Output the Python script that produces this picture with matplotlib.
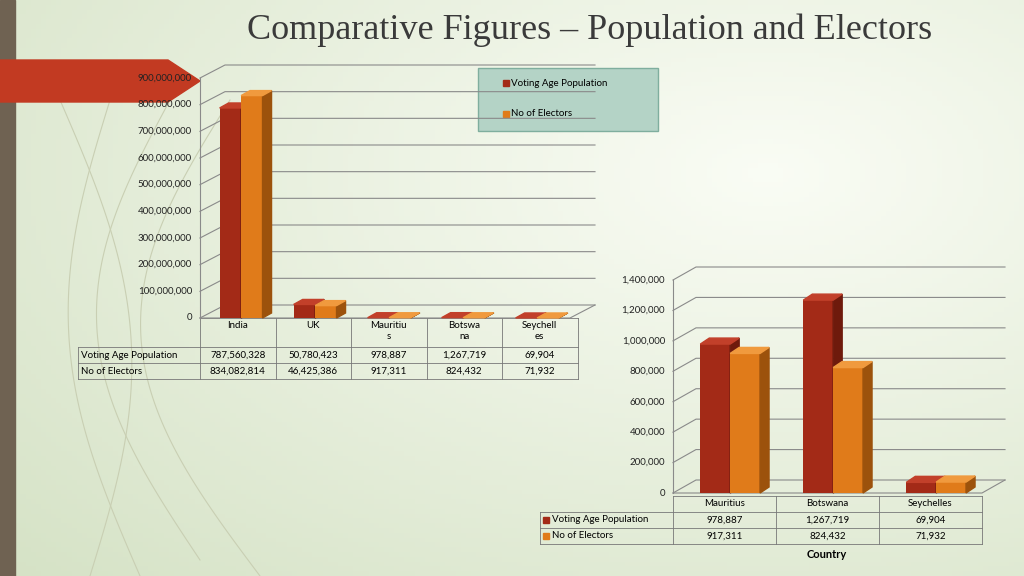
import numpy as np
import matplotlib.pyplot as plt
from matplotlib.patches import Polygon, Rectangle

countries = ["India", "UK", "Mauritius", "Botswana", "Seychelles"]
head1 = ["India", "UK", "Mauritiu\ns", "Botswa\nna", "Seychell\nes"]
voting_age = [787560328, 50780423, 978887, 1267719, 69904]
electors = [834082814, 46425386, 917311, 824432, 71932]
series = ["Voting Age Population", "No of Electors"]
small = ["Mauritius", "Botswana", "Seychelles"]
ticks1 = list(range(0, 900000001, 100000000))
ticks2 = list(range(0, 1400001, 200000))

RED, RED_D, RED_T = "#a32a17", "#6e1a0c", "#c2402a"
ORA, ORA_D, ORA_T = "#e07b1a", "#9c520c", "#f09a3e"
GRID = "#8a8a8a"
FONT = "Lato"

fig = plt.figure(figsize=(10.24, 5.76), dpi=100)
W, H = 1024, 576

# pixel overlay for background / tables
bg = fig.add_axes([0, 0, 1, 1])
bg.set_xlim(0, W); bg.set_ylim(H, 0); bg.axis("off")
gx, gy = np.meshgrid(np.linspace(0, 1, 200), np.linspace(0, 1, 120))
grad = 1 - np.sqrt((gx - 0.75) ** 2 + (gy - 0.3) ** 2) / 1.0
cols = np.zeros(grad.shape + (3,))
c1 = np.array([0.98, 0.99, 0.96]); c2 = np.array([0.84, 0.89, 0.78])
for k in range(3):
    cols[..., k] = c2[k] + (c1[k] - c2[k]) * np.clip(grad, 0, 1)
bg.imshow(cols, extent=[0, W, H, 0], aspect="auto", zorder=0)
bg.add_patch(Rectangle((0, 0), 15, H, color="#6f6252", zorder=1))
t = np.linspace(0, 1, 100)
for a, b, c in [(60, 130, 576), (110, 40, 576), (170, 60, 560), (230, 100, 576)]:
    bg.plot(a + (b - a) * np.sin(t * np.pi) * 0.8 + t * 30, 100 + t * (c - 100), color="#c9cfb3", lw=0.8, zorder=1)
bg.add_patch(Polygon([(0, 60), (168, 60), (200, 81), (168, 102), (0, 102)], color="#c23a22", zorder=2))
bg.text(590, 30, "Comparative Figures \u2013 Population and Electors", ha="center", va="center",
        family="Liberation Serif", fontsize=26, color="#3a3a3a")


def chart(left, bottom, width, height, n, ymax, ticks, va, el, depth, bd, labfmt):
    ax = fig.add_axes([left / W, (H - bottom) / H, width / W, height / H])
    ax.set_xlim(0, n); ax.set_ylim(0, ymax); ax.axis("off")
    ux = n / width; uy = ymax / height
    dx, dy = depth[0] * ux, depth[1] * uy
    for v in ticks:
        ax.plot([0, dx, n + dx], [v, v + dy, v + dy], color=GRID, lw=0.8, clip_on=False, zorder=1)
        ax.text(-8 * ux, v, labfmt(v), ha="right", va="center", fontsize=7, family=FONT, color="#222222")
    ax.plot([0, 0], [0, ymax], color=GRID, lw=0.8, clip_on=False)
    ax.plot([0, n, n + dx], [0, 0, dy], color=GRID, lw=0.8, clip_on=False)
    bw = 0.29
    bdx, bdy = bd[0] * ux, bd[1] * uy
    for off, vals, cf, cs, ct in [(0.41, va, RED, RED_D, RED_T), (0.70, el, ORA, ORA_D, ORA_T)]:
        xs = np.arange(n) + off
        ax.bar(xs, vals, width=bw, color=cf, zorder=3, clip_on=False)
        for x, h in zip(xs, vals):
            x0, x1 = x - bw / 2, x + bw / 2
            ax.add_patch(Polygon([(x1, 0), (x1 + bdx, bdy), (x1 + bdx, h + bdy), (x1, h)], color=cs, zorder=3, clip_on=False))
            ax.add_patch(Polygon([(x0, h), (x1, h), (x1 + bdx, h + bdy), (x0 + bdx, h + bdy)], color=ct, zorder=3, clip_on=False))
    return ax


chart(200, 318, 370, 240, 5, 900000000, ticks1, voting_age, electors, (25, 13), (9, 5), lambda v: f"{v:,}")
chart(673, 493, 309, 213, 3, 1400000, ticks2, voting_age[2:], electors[2:], (23, 13), (9, 6), lambda v: f"{v:,}")


def table(x_lab, x0, cw, rows_y, heads, lab_series, data_rows, keys=False):
    n = len(heads)
    xr = x0 + cw * n
    for y in rows_y[1:]:
        bg.plot([x_lab, xr], [y, y], color="#777777", lw=0.6)
    bg.plot([x0, xr], [rows_y[0], rows_y[0]], color="#777777", lw=0.6)
    bg.plot([x_lab, x_lab], [rows_y[1], rows_y[-1]], color="#777777", lw=0.6)
    for i in range(n + 1):
        bg.plot([x0 + cw * i] * 2, [rows_y[0], rows_y[-1]], color="#777777", lw=0.6)
    for i, h in enumerate(heads):
        bg.text(x0 + cw * (i + 0.5), rows_y[0] + 3, h, ha="center", va="top", fontsize=7, family=FONT, linespacing=1.3)
    for r, (lab, vals, c) in enumerate(zip(lab_series, data_rows, [RED, ORA])):
        yc = (rows_y[r + 1] + rows_y[r + 2]) / 2
        tx = x_lab + 3
        if keys:
            bg.add_patch(Rectangle((x_lab + 3, yc - 3), 6, 6, color=c))
            tx = x_lab + 12
        bg.text(tx, yc, lab, va="center", fontsize=7, family=FONT)
        for i, v in enumerate(vals):
            bg.text(x0 + cw * (i + 0.5), yc, f"{v:,}", ha="center", va="center", fontsize=7, family=FONT)


table(78, 200, 75.5, [318, 347, 363, 379], head1, series, [voting_age, electors])
table(540, 673, 103, [496, 512, 528, 544], small, series, [voting_age[2:], electors[2:]], keys=True)
bg.text(827, 554, "Country", ha="center", va="center", fontsize=8, family=FONT, weight="bold")

# legend for the first chart
bg.add_patch(Rectangle((478, 68), 180, 63, facecolor="#b4d3c6", edgecolor="#7fae9e", lw=1, zorder=4))
for y, c, lab in [(83, RED, series[0]), (114, ORA, series[1])]:
    bg.add_patch(Rectangle((503, y - 3), 6, 6, color=c, zorder=5))
    bg.text(511, y, lab, va="center", fontsize=7, family=FONT, zorder=5)

fig.savefig("out.png", dpi=100)
